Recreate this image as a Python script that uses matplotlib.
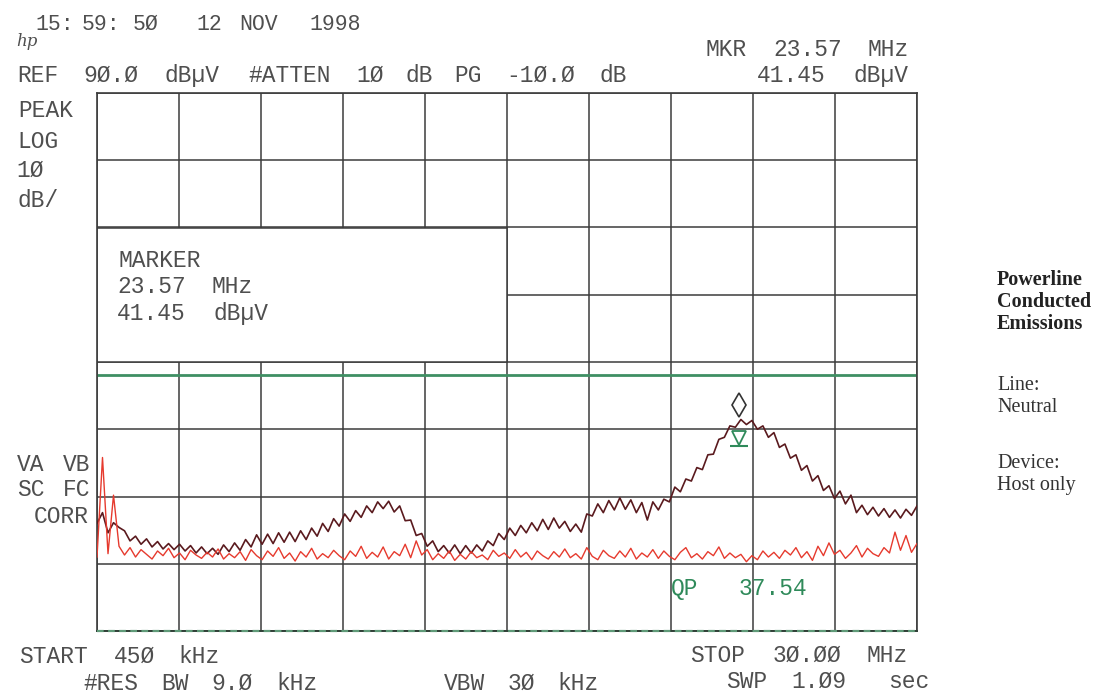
import re
import numpy as np
import matplotlib
matplotlib.use("Agg")
import matplotlib.pyplot as plt
from matplotlib.patches import Rectangle
from matplotlib.transforms import offset_copy

# ---------------- data ----------------
start_mhz = 0.45
stop_mhz = 30.0
ref_level = 90.0
db_per_div = 10
n_div_x = 10
n_div_y = 8
limit_level = 48.0
mkr_freq = 23.57
mkr_level = 41.45
qp_level = 37.54

# peak detector trace (dBuV), dark
peak_trace = [
    26.0, 27.6, 24.6, 26.1, 25.4, 24.9, 23.4, 24.1, 22.9, 23.7,
    22.5, 23.3, 22.2, 23.0, 22.1, 22.9, 21.9, 22.7, 21.6, 22.5,
    21.5, 22.3, 21.4, 22.8, 21.8, 23.1, 22.0, 23.6, 22.5, 24.3,
    22.9, 24.4, 23.0, 24.6, 23.2, 24.7, 23.3, 24.9, 23.6, 25.3,
    24.1, 26.0, 24.8, 26.7, 25.6, 27.4, 26.3, 27.9, 26.9, 28.6,
    27.6, 29.2, 28.2, 29.3, 27.7, 28.6, 26.4, 26.5, 24.2, 24.5,
    22.6, 23.4, 21.8, 22.7, 21.6, 22.8, 21.5, 22.7, 21.6, 22.8,
    21.9, 23.4, 22.7, 24.5, 23.6, 25.3, 24.2, 25.7, 24.6, 26.1,
    24.9, 26.6, 25.1, 26.8, 25.3, 26.3, 24.8, 25.9, 24.7, 27.4,
    27.1, 28.9, 27.6, 29.4, 28.0, 29.8, 28.1, 29.5, 27.6, 29.1,
    26.5, 29.2, 28.0, 29.6, 29.2, 31.4, 30.7, 32.6, 32.3, 34.3,
    34.0, 36.2, 36.3, 38.5, 38.8, 40.5, 40.3, 41.45, 40.7, 41.3,
    40.0, 40.5, 38.8, 39.5, 37.3, 37.8, 35.7, 36.2, 33.9, 34.6,
    32.3, 33.1, 30.9, 31.6, 29.7, 30.8, 28.9, 30.2, 27.6, 28.7,
    27.3, 28.4, 27.1, 28.2, 26.9, 28.0, 26.8, 28.1, 27.2, 28.6,
]

# second (average / ambient) trace (dBuV), red
avg_trace = [
    21.0, 35.8, 21.5, 30.2, 22.6, 21.3, 22.4, 21.0, 22.1, 21.4,
    20.7, 21.9, 21.2, 22.3, 20.9, 21.6, 20.6, 22.0, 21.3, 20.8,
    21.7, 21.0, 22.2, 20.7, 21.5, 20.9, 21.8, 20.5, 22.1, 21.2,
    20.6, 21.9, 21.1, 22.4, 20.8, 21.6, 20.4, 21.8, 21.0, 22.3,
    20.7, 21.5, 20.9, 22.0, 21.2, 20.6, 21.9, 21.1, 22.6, 20.8,
    21.7, 21.0, 22.5, 20.7, 21.8, 21.2, 22.9, 20.9, 23.4, 21.3,
    22.1, 20.6, 21.5, 20.8, 21.9, 20.5, 21.4, 20.7, 21.8, 20.9,
    21.3, 20.6, 22.0, 21.1, 21.6, 20.8, 22.1, 21.0, 21.7, 20.6,
    21.9, 21.2, 20.7, 21.8, 21.0, 22.2, 20.9, 21.5, 20.7, 22.4,
    21.1, 20.6, 22.0, 21.2, 20.8, 21.9, 21.0, 22.3, 20.7, 21.6,
    21.0, 22.1, 20.8, 21.9, 21.1, 20.6, 21.7, 22.4, 20.9, 21.5,
    20.7, 21.8, 21.2, 22.5, 20.8, 21.6, 20.9, 21.4, 20.3, 21.2,
    20.6, 21.9, 21.0, 21.7, 20.8, 22.0, 21.3, 22.4, 20.9, 21.8,
    20.5, 22.6, 21.2, 23.1, 21.4, 22.0, 20.8, 21.6, 22.7, 21.0,
    22.3, 21.5, 21.1, 22.4, 21.6, 24.7, 22.0, 24.2, 21.7, 23.0,
]

freq = np.linspace(start_mhz, stop_mhz, len(peak_trace))

# ---------------- figure ----------------
W, H = 1098, 696
fig = plt.figure(figsize=(W / 100, H / 100), dpi=100)
fig.patch.set_facecolor("white")

ax = fig.add_axes([97 / W, 1 - 631 / H, 820 / W, 538 / H])
bottom_level = ref_level - n_div_y * db_per_div
ax.set_xlim(start_mhz, stop_mhz)
ax.set_ylim(bottom_level, ref_level)
ax.set_xticks(np.linspace(start_mhz, stop_mhz, n_div_x + 1))
ax.set_yticks(np.linspace(bottom_level, ref_level, n_div_y + 1))
ax.tick_params(length=0, labelbottom=False, labelleft=False)
ax.set_axisbelow(True)
grid_col = "#3c3c3c"
ax.grid(True, color=grid_col, lw=1.1)
for side in ["top", "left", "right"]:
    ax.spines[side].set_color(grid_col)
    ax.spines[side].set_linewidth(1.2)
ax.spines["bottom"].set_visible(False)

# bottom dashed reference line
ax.axhline(bottom_level, color="#2f3f36", lw=1.4, clip_on=False, zorder=3)
ax.axhline(bottom_level, color="#5f9a78", lw=1.6, ls=(0, (3, 2)), clip_on=False, zorder=3.1)

# marker info box (covers grid)
box_w = 5 * (stop_mhz - start_mhz) / n_div_x
ax.add_patch(Rectangle((start_mhz, ref_level - 4 * db_per_div), box_w, 2 * db_per_div,
                       facecolor="white", edgecolor=grid_col, lw=1.1, zorder=1))

# limit line
ax.axhline(limit_level, color="#3f8f63", lw=2.0, zorder=2)

# traces
ax.plot(freq, peak_trace, color="#5a1a1e", lw=1.2, zorder=4)
ax.plot(freq, avg_trace, color="#e63a2e", lw=1.0, zorder=5)

# marker symbols
up = offset_copy(ax.transData, fig=fig, x=0, y=14, units="dots")
ax.plot([mkr_freq], [mkr_level], marker="d", ms=12, mfc="white", mec="#333333",
        mew=1.2, transform=up, zorder=6, clip_on=False)
upqp = offset_copy(ax.transData, fig=fig, x=0, y=8, units="dots")
ax.plot([mkr_freq], [qp_level], marker="v", ms=10, mfc="none", mec="#2f8a5a",
        mew=1.3, transform=upqp, zorder=6)
ax.plot([mkr_freq], [qp_level], marker="_", ms=13, mec="#2f8a5a", mew=1.5, zorder=6)

# ---------------- text ----------------
mono = "Liberation Mono"
tcol = "#4f4f4f"


def put_words(s, x0, base_y, pitch=16.2, size=16.5, color=tcol):
    for m in re.finditer(r"\S+", s):
        cx = x0 + (m.start() + len(m.group()) / 2) * pitch
        fig.text(cx / W, 1 - base_y / H, m.group(),
                 ha="center", va="baseline", family=mono, fontsize=size, color=color)


def put_at(word, x_left, base_y, size=15.5, color=tcol):
    fig.text(x_left / W, 1 - base_y / H, word, ha="left", va="baseline",
             family=mono, fontsize=size, color=color)


# header
for w, xl in [("15:", 35), ("59:", 82), ("5Ø", 133), ("12", 196), ("NOV", 239), ("1998", 309)]:
    put_at(w, xl, 30)
fig.text(16 / W, 1 - 46 / H, "hp", ha="left", va="baseline", family="DejaVu Serif",
         style="italic", fontsize=12, color=tcol)
put_words("MKR 23.57 MHz", 702, 56)
put_words("REF 9Ø.Ø dBµV #ATTEN 1Ø dB PG -1Ø.Ø dB", 14, 82)
put_words("41.45 dBµV", 751, 82)

# left column
put_words("PEAK", 15, 117, pitch=15.5)
put_words("LOG", 15, 148, pitch=15.5)
put_words("1Ø", 15, 177, pitch=15.5)
put_words("dB/", 15, 207, pitch=15.5)
put_words("VA VB", 15, 471, pitch=15.5)
put_words("SC FC", 15, 496, pitch=15.5)
put_words("CORR", 30, 523, pitch=15.5)

# marker box
put_words("MARKER", 111, 267)
put_words("23.57 MHz", 111, 293)
put_words("41.45 dBµV", 111, 320)

# QP readout
put_words("QP  37.54", 668, 595, color="#2f8a5a")

# footer
put_words("START 45Ø kHz", 13, 663)
put_words("#RES BW 9.Ø kHz", 78, 690)
put_words("VBW 3Ø kHz", 440, 690)
put_words("STOP 3Ø.ØØ MHz", 685, 662)
put_words("SWP 1.Ø9  sec", 722, 688)

# right annotation
serif = "Liberation Serif"
rx = 997 / W
for txt, y in [("Powerline", 285), ("Conducted", 307), ("Emissions", 329)]:
    fig.text(rx, 1 - y / H, txt, ha="left", va="baseline", family=serif,
             fontweight="bold", fontsize=14.5, color="#222222")
for txt, y in [("Line:", 390), ("Neutral", 412), ("Device:", 468), ("Host only", 490)]:
    fig.text(rx, 1 - y / H, txt, ha="left", va="baseline", family=serif,
             fontsize=14.5, color="#333333")

fig.savefig("out.png", dpi=100, facecolor="white")
